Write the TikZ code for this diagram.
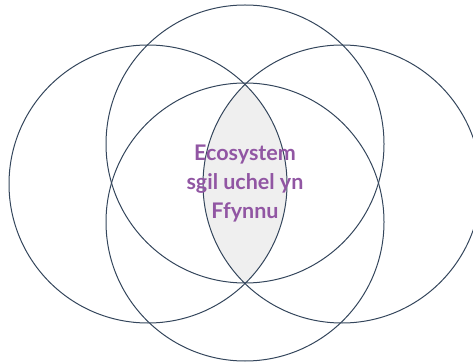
\documentclass[tikz,border=0pt]{standalone}
\usepackage{fontspec}
\setsansfont{Lato}
\usepackage{tikz}
\usetikzlibrary{positioning}
\definecolor{ring}{RGB}{52,70,92}
\definecolor{lbl}{RGB}{145,86,163}
\definecolor{lens}{RGB}{239,239,239}

\begin{document}
\begin{tikzpicture}[x=1pt,y=-1pt,font=\sffamily\bfseries]
  \useasboundingbox (0,0) rectangle (473,363);
  \tikzset{ringc/.style={circle,draw=ring,line width=1pt,minimum size=278pt,inner sep=0pt}}
  \coordinate (cL) at (148,184);
  \coordinate (cR) at (342,184);
  \coordinate (cT) at (245,144);
  \coordinate (cB) at (245,222);
  % shaded overlap of the side circles
  \begin{scope}
    \clip (cL) circle (139);
    \fill[lens] (cR) circle (139);
  \end{scope}
  \node[ringc] (L) at (cL) {};
  \node[ringc] (R) at (cR) {};
  \node[ringc] (T) at (cT) {};
  \node[ringc] (B) at (cB) {};
  \node[lbl,align=center,font=\sffamily\bfseries\fontsize{21.5}{29}\selectfont] (txt) at (245,184) {Ecosystem\\sgil uchel yn\\Ffynnu};
\end{tikzpicture}
\end{document}
